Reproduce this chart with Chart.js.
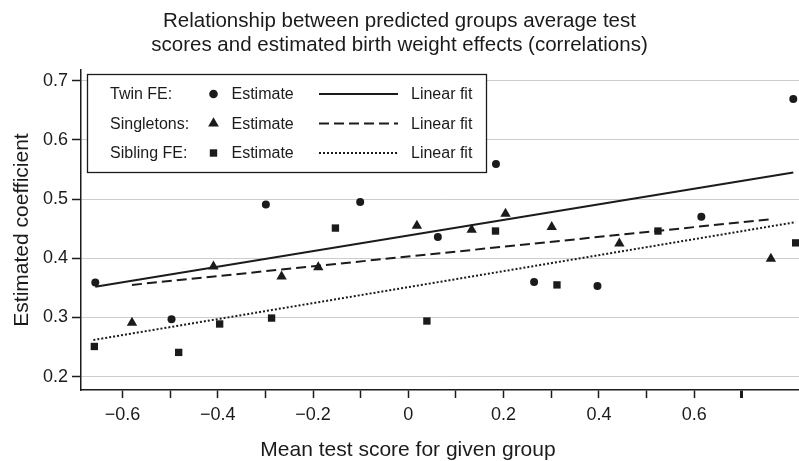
<!DOCTYPE html>
<html>
<head>
<meta charset="utf-8">
<script src="https://cdn.jsdelivr.net/npm/chart.js@4/dist/chart.umd.min.js"></script>
<style>
  html, body { margin: 0; padding: 0; background: #fff; }
  #wrap { width: 799px; height: 461px; }
</style>
</head>
<body>
<div id="wrap"><canvas id="chart" width="799" height="461"></canvas></div>
<script>
const titleLines = [
  "Relationship between predicted groups average test",
  "scores and estimated birth weight effects (correlations)",
];
const xTitle = "Mean test score for given group";
const yTitle = "Estimated coefficient";

// estimates
const twinX = [-0.657, -0.497, -0.299, -0.101, 0.062, 0.184, 0.264, 0.397, 0.615, 0.808];
const twinY = [0.359, 0.297, 0.491, 0.495, 0.436, 0.559, 0.360, 0.353, 0.470, 0.669];
const singX = [-0.580, -0.409, -0.266, -0.189, 0.018, 0.133, 0.204, 0.301, 0.443, 0.761];
const singY = [0.291, 0.386, 0.369, 0.385, 0.455, 0.448, 0.475, 0.453, 0.425, 0.399];
const sibX = [-0.659, -0.482, -0.396, -0.287, -0.153, 0.039, 0.183, 0.312, 0.524, 0.813];
const sibY = [0.251, 0.241, 0.289, 0.299, 0.451, 0.294, 0.446, 0.355, 0.446, 0.426];

// linear fit end points
const twinFitX = [-0.657, 0.808];
const twinFitY = [0.352, 0.545];
const singFitX = [-0.580, 0.762];
const singFitY = [0.355, 0.466];
const sibFitX = [-0.661, 0.813];
const sibFitY = [0.262, 0.461];

const xTickValues = [-0.6, -0.5, -0.4, -0.3, -0.2, -0.1, 0, 0.1, 0.2, 0.3, 0.4, 0.5, 0.6, 0.7];
const xTickLabels = ["\u22120.6", "", "\u22120.4", "", "\u22120.2", "", "0", "", "0.2", "", "0.4", "", "0.6", ""];
const yTickValues = [0.2, 0.3, 0.4, 0.5, 0.6, 0.7];
const yTickLabels = ["0.2", "0.3", "0.4", "0.5", "0.6", "0.7"];

const legendGroups = ["Twin FE:", "Singletons:", "Sibling FE:"];
const legendPointText = "Estimate";
const legendLineText = "Linear fit";

const INK = "#1b1b1b";
const FONT = "'Liberation Sans', Arial, Helvetica, sans-serif";
Chart.defaults.font.family = FONT;
Chart.defaults.color = INK;

function zip(xs, ys) {
  return xs.map((x, i) => ({ x, y: ys[i] }));
}

const markerStyles = [
  { style: "circle", radius: 4 },
  { style: "triangle", radius: 6 },
  { style: "rect", radius: 5.2 },
];
const lineDashes = [[], [10, 5], [2, 2]];

function drawMarker(ctx, kind, x, y) {
  ctx.beginPath();
  if (kind === "circle") {
    ctx.arc(x, y, 4.3, 0, Math.PI * 2);
  } else if (kind === "triangle") {
    const r = 6.2;
    ctx.moveTo(x, y - r);
    ctx.lineTo(x + r * 0.866, y + r * 0.5);
    ctx.lineTo(x - r * 0.866, y + r * 0.5);
    ctx.closePath();
  } else {
    ctx.rect(x - 3.7, y - 3.7, 7.4, 7.4);
  }
  ctx.fill();
}

const boxLegend = {
  id: "boxLegend",
  afterDatasetsDraw(chart) {
    const { ctx } = chart;
    const left = 87.5, top = 74.5, width = 399, height = 98;
    const rows = [94, 123.5, 153];

    ctx.save();
    ctx.fillStyle = "#fff";
    ctx.fillRect(left, top, width, height);
    ctx.strokeStyle = INK;
    ctx.lineWidth = 1.3;
    ctx.strokeRect(left, top, width, height);

    ctx.font = "16px " + FONT;
    ctx.textBaseline = "middle";
    ctx.textAlign = "left";
    ctx.fillStyle = INK;

    legendGroups.forEach((label, i) => {
      const y = rows[i];
      ctx.fillText(label, 110, y + 1);
      drawMarker(ctx, markerStyles[i].style, 213.5, y);
      ctx.fillText(legendPointText, 231.5, y + 1);

      ctx.beginPath();
      ctx.setLineDash(lineDashes[i]);
      ctx.lineWidth = 2;
      ctx.moveTo(319, y);
      ctx.lineTo(398, y);
      ctx.stroke();
      ctx.setLineDash([]);

      ctx.fillText(legendLineText, 411, y + 1);
    });
    ctx.restore();
  },
};

// the x axis title sits a little right of the canvas centre, under the 0 tick
const nudgeAxisTitle = {
  id: "nudgeAxisTitle",
  afterLayout(chart) {
    chart.boxes.forEach((box) => {
      if (box.options && box.options.text === xTitle) {
        box.left += 8.5;
        box.right += 8.5;
      }
    });
  },
};

function pointSet(label, xs, ys, i) {
  return {
    label,
    data: zip(xs, ys),
    pointStyle: markerStyles[i].style,
    pointRadius: markerStyles[i].radius,
    pointHoverRadius: markerStyles[i].radius,
    pointBorderWidth: 0,
    backgroundColor: INK,
    borderColor: INK,
  };
}

function fitSet(label, xs, ys, i) {
  return {
    label,
    data: zip(xs, ys),
    showLine: true,
    pointRadius: 0,
    pointHoverRadius: 0,
    borderColor: INK,
    borderWidth: 2,
    borderDash: lineDashes[i],
    tension: 0,
    fill: false,
  };
}

new Chart(document.getElementById("chart"), {
  type: "scatter",
  data: {
    datasets: [
      fitSet("Twin FE linear fit", twinFitX, twinFitY, 0),
      fitSet("Singletons linear fit", singFitX, singFitY, 1),
      fitSet("Sibling FE linear fit", sibFitX, sibFitY, 2),
      pointSet("Twin FE estimate", twinX, twinY, 0),
      pointSet("Singletons estimate", singX, singY, 1),
      pointSet("Sibling FE estimate", sibX, sibY, 2),
    ],
  },
  options: {
    responsive: false,
    animation: false,
    events: [],
    layout: { padding: 0, autoPadding: false },
    plugins: {
      legend: { display: false },
      tooltip: { enabled: false },
      title: {
        display: true,
        text: titleLines,
        color: INK,
        font: { size: 20.5, weight: "normal", lineHeight: 1.17 },
        padding: { top: 9, bottom: 13 },
      },
      subtitle: {
        display: true,
        position: "bottom",
        text: xTitle,
        color: INK,
        font: { size: 21, weight: "normal", lineHeight: 1 },
        padding: { top: 0, bottom: 0 },
      },
    },
    scales: {
      x: {
        type: "linear",
        min: -0.687,
        max: 0.82,
        afterBuildTicks(scale) {
          scale.ticks = xTickValues.map((value) => ({ value }));
        },
        afterFit(scale) {
          scale.height = 50;
          scale.paddingLeft = 0;
          scale.paddingRight = 0;
        },
        ticks: {
          autoSkip: false,
          maxRotation: 0,
          padding: 6,
          color: INK,
          font: { size: 18 },
          callback: (value, index) => xTickLabels[index],
        },
        grid: {
          drawOnChartArea: false,
          drawTicks: true,
          tickLength: 8,
          tickColor: INK,
          tickWidth: (ctx) => (ctx.tick && ctx.tick.value > 0.65 ? 3 : 1.5),
        },
        border: { color: INK, width: 1.5 },
      },
      y: {
        min: 0.1775,
        max: 0.718,
        afterBuildTicks(scale) {
          scale.ticks = yTickValues.map((value) => ({ value }));
        },
        afterFit(scale) {
          scale.width = 81;
        },
        ticks: {
          autoSkip: false,
          padding: 4,
          color: INK,
          font: { size: 18 },
          callback: (value, index) => yTickLabels[index],
        },
        grid: {
          color: "#cdcdcd",
          lineWidth: 1,
          drawTicks: true,
          tickLength: 9,
          tickColor: INK,
          tickWidth: 1.5,
        },
        border: { color: INK, width: 1.5 },
        title: {
          display: true,
          text: yTitle,
          color: INK,
          font: { size: 21 },
          padding: { top: 10, bottom: 0 },
        },
      },
    },
  },
  plugins: [boxLegend, nudgeAxisTitle],
});
</script>
</body>
</html>
